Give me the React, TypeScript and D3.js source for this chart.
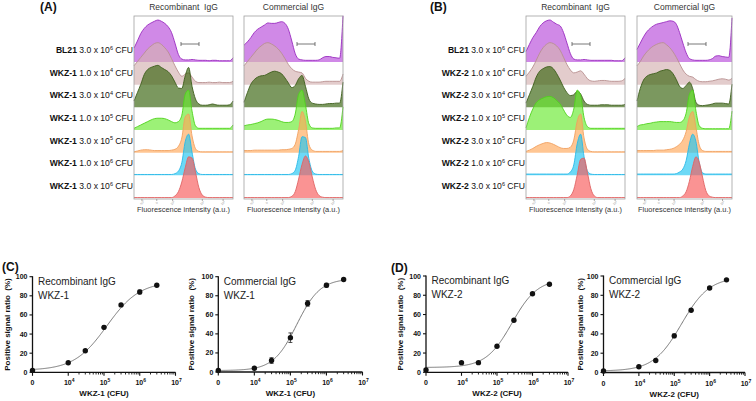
import React from 'react';
import * as d3 from 'd3';

const FONT = "'Liberation Sans', Arial, Helvetica, sans-serif";

// ---------- Flow cytometry histograms (normalized heights, 30 bins across the intensity axis) ----------
const rowMantissa = ['3.0', '1.0', '3.0', '1.0', '3.0', '1.0', '3.0'];
const rowExponent = ['6', '4', '4', '5', '5', '6', '6'];
const strainsA = ['BL21', 'WKZ-1', 'WKZ-1', 'WKZ-1', 'WKZ-1', 'WKZ-1', 'WKZ-1'];
const strainsB = ['BL21', 'WKZ-2', 'WKZ-2', 'WKZ-2', 'WKZ-2', 'WKZ-2', 'WKZ-2'];
const histTitles = ['Recombinant  IgG', 'Commercial IgG'];
const histTickLabels = ['-10³', '0', '10³', '10⁴', '10⁵'];
const histTickPos = [0.08, 0.23, 0.39, 0.69, 0.9];

const rowFill = ['#b74cdb', '#d4b1b1', '#37620c', '#69ea30', '#ffa95b', '#22c6f1', '#f85b5b'];
const rowStroke = ['#9a2cc0', '#b89090', '#3d5e1c', '#4fd31c', '#f0a060', '#28b8e8', '#e06464'];

const histARecombinant = [
  [0.33, 0.5, 0.68, 0.8, 0.88, 0.93, 0.97, 1.0, 0.97, 0.92, 0.84, 0.7, 0.45, 0.18, 0.07, 0.05, 0.05, 0.06, 0.05, 0.04, 0.04, 0.04, 0.03, 0.04, 0.04, 0.03, 0.03, 0.03, 0.03, 0.1],
  [0.45, 0.55, 0.65, 0.75, 0.85, 0.92, 0.98, 1.0, 0.96, 0.88, 0.78, 0.62, 0.45, 0.3, 0.2, 0.25, 0.28, 0.18, 0.08, 0.05, 0.05, 0.05, 0.06, 0.05, 0.05, 0.06, 0.05, 0.05, 0.05, 0.08],
  [0.15, 0.35, 0.55, 0.78, 0.9, 0.95, 0.98, 1.0, 0.95, 0.9, 0.85, 0.75, 0.6, 0.46, 0.45, 0.75, 0.95, 0.5, 0.2, 0.08, 0.05, 0.05, 0.06, 0.08, 0.06, 0.05, 0.05, 0.05, 0.06, 0.15],
  [0.04, 0.08, 0.12, 0.16, 0.2, 0.24, 0.27, 0.28, 0.28, 0.27, 0.24, 0.2, 0.17, 0.2, 0.35, 0.85, 0.95, 0.45, 0.1, 0.04, 0.04, 0.04, 0.04, 0.04, 0.04, 0.04, 0.04, 0.04, 0.04, 0.12],
  [0.02, 0.04, 0.06, 0.07, 0.07, 0.06, 0.05, 0.05, 0.05, 0.05, 0.05, 0.06, 0.08, 0.15, 0.35, 0.85, 0.92, 0.4, 0.1, 0.03, 0.02, 0.02, 0.02, 0.02, 0.02, 0.02, 0.02, 0.02, 0.02, 0.02],
  [0.02, 0.02, 0.02, 0.02, 0.02, 0.02, 0.02, 0.02, 0.02, 0.02, 0.02, 0.02, 0.04, 0.1, 0.3, 0.8, 0.98, 0.55, 0.15, 0.04, 0.02, 0.02, 0.02, 0.02, 0.02, 0.02, 0.02, 0.02, 0.02, 0.02],
  [0.01, 0.01, 0.01, 0.01, 0.01, 0.01, 0.01, 0.01, 0.01, 0.01, 0.01, 0.01, 0.05, 0.15, 0.38, 0.72, 0.98, 0.95, 0.62, 0.25, 0.07, 0.02, 0.01, 0.01, 0.01, 0.01, 0.01, 0.01, 0.01, 0.01],
];
const histACommercial = [
  [0.4, 0.48, 0.58, 0.7, 0.78, 0.83, 0.88, 0.93, 0.92, 0.92, 0.94, 0.96, 0.92, 0.78, 0.5, 0.2, 0.07, 0.05, 0.04, 0.04, 0.04, 0.04, 0.05, 0.1, 0.13, 0.13, 0.11, 0.1, 0.09, 1.1],
  [0.45, 0.55, 0.65, 0.75, 0.85, 0.92, 0.98, 1.0, 0.97, 0.92, 0.85, 0.75, 0.62, 0.48, 0.38, 0.32, 0.3, 0.28, 0.15, 0.08, 0.06, 0.06, 0.06, 0.07, 0.08, 0.08, 0.08, 0.08, 0.08, 0.25],
  [0.12, 0.35, 0.55, 0.66, 0.72, 0.75, 0.76, 0.8, 0.84, 0.86, 0.84, 0.8, 0.7, 0.58, 0.47, 0.52, 0.68, 0.76, 0.5, 0.2, 0.1, 0.08, 0.07, 0.07, 0.08, 0.09, 0.09, 0.1, 0.1, 0.6],
  [0.1, 0.12, 0.13, 0.15, 0.17, 0.2, 0.24, 0.26, 0.26, 0.25, 0.23, 0.2, 0.18, 0.18, 0.2, 0.38, 0.85, 0.95, 0.6, 0.15, 0.05, 0.04, 0.04, 0.04, 0.04, 0.04, 0.04, 0.05, 0.05, 0.55],
  [0.05, 0.05, 0.05, 0.06, 0.06, 0.06, 0.06, 0.06, 0.06, 0.06, 0.06, 0.07, 0.07, 0.08, 0.1, 0.2, 0.55, 0.98, 0.75, 0.2, 0.06, 0.03, 0.03, 0.03, 0.03, 0.03, 0.03, 0.03, 0.03, 0.05],
  [0.02, 0.02, 0.02, 0.02, 0.02, 0.02, 0.02, 0.02, 0.02, 0.02, 0.02, 0.02, 0.02, 0.02, 0.04, 0.12, 0.45, 0.92, 0.9, 0.4, 0.1, 0.03, 0.02, 0.02, 0.02, 0.02, 0.02, 0.02, 0.02, 0.02],
  [0.01, 0.01, 0.01, 0.01, 0.01, 0.01, 0.01, 0.01, 0.01, 0.01, 0.01, 0.01, 0.01, 0.01, 0.04, 0.15, 0.45, 0.8, 1.0, 0.85, 0.5, 0.2, 0.06, 0.02, 0.01, 0.01, 0.01, 0.01, 0.01, 0.01],
];
const histBRecombinant = [
  [0.25, 0.42, 0.58, 0.7, 0.84, 0.93, 0.98, 1.0, 0.95, 0.9, 0.86, 0.7, 0.45, 0.2, 0.07, 0.05, 0.05, 0.06, 0.05, 0.04, 0.04, 0.04, 0.04, 0.04, 0.04, 0.04, 0.03, 0.03, 0.03, 0.1],
  [0.2, 0.3, 0.42, 0.58, 0.75, 0.88, 0.96, 1.0, 0.98, 0.92, 0.82, 0.65, 0.48, 0.35, 0.28, 0.3, 0.33, 0.25, 0.14, 0.09, 0.08, 0.09, 0.1, 0.1, 0.09, 0.08, 0.08, 0.08, 0.09, 0.15],
  [0.1, 0.3, 0.5, 0.72, 0.86, 0.92, 0.96, 0.97, 0.92, 0.8, 0.65, 0.48, 0.35, 0.28, 0.3, 0.38, 0.32, 0.15, 0.07, 0.05, 0.05, 0.05, 0.06, 0.06, 0.06, 0.05, 0.05, 0.05, 0.05, 0.07],
  [0.05, 0.3, 0.5, 0.65, 0.72, 0.76, 0.79, 0.8, 0.77, 0.7, 0.62, 0.48, 0.35, 0.3, 0.5, 0.95, 0.82, 0.3, 0.08, 0.04, 0.04, 0.04, 0.04, 0.04, 0.04, 0.04, 0.04, 0.04, 0.04, 0.04],
  [0.03, 0.06, 0.1, 0.15, 0.19, 0.22, 0.24, 0.23, 0.2, 0.16, 0.12, 0.1, 0.1, 0.13, 0.3, 0.75, 0.92, 0.35, 0.08, 0.03, 0.02, 0.02, 0.02, 0.02, 0.02, 0.02, 0.02, 0.02, 0.02, 0.02],
  [0.03, 0.03, 0.03, 0.03, 0.03, 0.03, 0.03, 0.03, 0.03, 0.03, 0.03, 0.03, 0.03, 0.08, 0.25, 0.75, 0.98, 0.45, 0.1, 0.03, 0.02, 0.02, 0.02, 0.02, 0.02, 0.02, 0.02, 0.02, 0.02, 0.02],
  [0.01, 0.01, 0.01, 0.01, 0.01, 0.01, 0.01, 0.01, 0.01, 0.01, 0.01, 0.01, 0.01, 0.05, 0.2, 0.55, 0.92, 0.95, 0.6, 0.22, 0.05, 0.01, 0.01, 0.01, 0.01, 0.01, 0.01, 0.01, 0.01, 0.01],
];
const histBCommercial = [
  [0.3, 0.45, 0.6, 0.72, 0.8, 0.86, 0.9, 0.92, 0.94, 0.96, 0.98, 0.97, 0.9, 0.7, 0.45, 0.22, 0.08, 0.05, 0.04, 0.04, 0.04, 0.04, 0.05, 0.08, 0.14, 0.15, 0.13, 0.12, 0.11, 1.05],
  [0.45, 0.55, 0.68, 0.78, 0.86, 0.92, 0.96, 0.99, 1.0, 0.95, 0.88, 0.78, 0.65, 0.5, 0.35, 0.25, 0.2, 0.18, 0.12, 0.08, 0.07, 0.07, 0.08, 0.09, 0.11, 0.13, 0.14, 0.13, 0.11, 0.15],
  [0.15, 0.45, 0.65, 0.74, 0.78, 0.8, 0.82, 0.86, 0.88, 0.9, 0.88, 0.8, 0.66, 0.5, 0.45, 0.52, 0.6, 0.45, 0.12, 0.05, 0.04, 0.05, 0.06, 0.08, 0.1, 0.1, 0.1, 0.09, 0.08, 0.55],
  [0.08, 0.12, 0.13, 0.15, 0.16, 0.18, 0.19, 0.2, 0.2, 0.2, 0.2, 0.19, 0.18, 0.18, 0.22, 0.4, 0.85, 0.95, 0.45, 0.1, 0.04, 0.03, 0.03, 0.03, 0.03, 0.03, 0.03, 0.03, 0.03, 0.45],
  [0.05, 0.05, 0.05, 0.05, 0.05, 0.05, 0.06, 0.06, 0.06, 0.07, 0.08, 0.1, 0.14, 0.2, 0.3, 0.5, 0.85, 0.98, 0.6, 0.18, 0.05, 0.03, 0.03, 0.03, 0.03, 0.03, 0.03, 0.03, 0.03, 0.03],
  [0.03, 0.03, 0.03, 0.03, 0.03, 0.03, 0.03, 0.03, 0.03, 0.03, 0.03, 0.03, 0.04, 0.08, 0.15, 0.35, 0.75, 0.98, 0.8, 0.3, 0.06, 0.03, 0.03, 0.03, 0.03, 0.03, 0.03, 0.03, 0.03, 0.03],
  [0.01, 0.01, 0.01, 0.01, 0.01, 0.01, 0.01, 0.01, 0.01, 0.01, 0.01, 0.01, 0.01, 0.01, 0.05, 0.15, 0.4, 0.75, 0.98, 0.85, 0.5, 0.18, 0.05, 0.02, 0.01, 0.01, 0.01, 0.01, 0.01, 0.01],
];

// ---------- Dose-response data ----------
const doseCFU = [0, 1e4, 3e4, 1e5, 3e5, 1e6, 3e6];
const c1Ratio = [2, 10, 22.5, 47, 70.5, 84, 91];
const c1Err = [0.5, 0.8, 1, 1.5, 1, 2, 1];
const c2Ratio = [1.5, 4, 12, 36, 72, 91, 97];
const c2Err = [0.5, 0.8, 3, 5, 3, 2, 0.8];
const d1Ratio = [2.5, 10, 10, 27, 54, 81.5, 91.5];
const d1Err = [0.5, 0.8, 1, 1, 1.2, 1, 0.8];
const d2Ratio = [1.5, 6, 12.5, 38, 64.5, 87.5, 96];
const d2Err = [0.5, 0.8, 1, 2, 1, 1, 0.8];
// 4-parameter logistic fits: bottom, top, EC50, hill
const c1Fit = [2, 95, 1.2e5, 0.95];
const c2Fit = [1.5, 98, 1.5e5, 1.34];
const d1Fit = [5, 97, 2.63e5, 1.2];
const d2Fit = [1.5, 99, 1.6e5, 1.1];
const yTicks = [0, 20, 40, 60, 80, 100];
const xMajor = [0, 1e4, 1e5, 1e6, 1e7];
const xMajorExp = ['', '4', '5', '6', '7'];

function HistPanel({ x0, x1, data, title, gate }: any) {
  const n = data[0].length;
  const xs = d3.scaleLinear().domain([0, n - 1]).range([x0, x1]);
  const rowY = d3.scaleLinear().domain([0, 6]).range([62, 198]);
  const hS = d3.scaleLinear().domain([0, 1]).range([0, 42]);
  const cx = (x0 + x1) / 2;
  return (
    <g>
      <text x={cx} y={10} textAnchor="middle" fontSize={8.5} fill="#333" style={{ whiteSpace: 'pre' }}>{title}</text>
      {data.map((arr: number[], r: number) => {
        const base = rowY(r);
        const area = d3.area<number>().x((_, i) => xs(i)).y0(base).y1((d) => base - hS(d)).curve(d3.curveMonotoneX);
        const line = d3.line<number>().x((_, i) => xs(i)).y((d) => base - hS(d)).curve(d3.curveMonotoneX);
        return (
          <g key={r}>
            <path d={area(arr) || ''} fill={rowFill[r]} fillOpacity={0.66} />
            <path d={line(arr) || ''} fill="none" stroke={rowStroke[r]} strokeWidth={0.9} />
          </g>
        );
      })}
      <rect x={x0} y={16} width={x1 - x0} height={183} fill="none" stroke="#a0a0a0" strokeWidth={0.8} />
      <g stroke="#555" strokeWidth={0.8}>
        <line x1={gate[0]} x2={gate[1]} y1={44} y2={44} />
        <line x1={gate[0]} x2={gate[0]} y1={42} y2={46} />
        <line x1={gate[1]} x2={gate[1]} y1={42} y2={46} />
      </g>
      {histTickPos.map((p, i) => {
        const x = x0 + p * (x1 - x0);
        return (
          <g key={i}>
            <line x1={x} x2={x} y1={199} y2={201} stroke="#777" strokeWidth={0.6} />
            <text x={x} y={204} fontSize={3.2} fill="#999" textAnchor="middle" transform={`rotate(-50 ${x} 203)`}>{histTickLabels[i]}</text>
          </g>
        );
      })}
      <text x={cx} y={212} textAnchor="middle" fontSize={7.4} fill="#333">Fluorescence intensity (a.u.)</text>
    </g>
  );
}

function RowLabels({ xEnd, strains }: any) {
  const rowY = d3.scaleLinear().domain([0, 6]).range([62, 198]);
  return (
    <g>
      {strains.map((s: string, r: number) => (
        <text key={r} x={xEnd} y={rowY(r) - 9} textAnchor="end" fontSize={8.6} fill="#111">
          <tspan fontWeight="bold">{s}</tspan>
          <tspan>{` ${rowMantissa[r]} x 10`}</tspan>
          <tspan fontSize={5.5} dy={-3.5}>{rowExponent[r]}</tspan>
          <tspan dy={3.5}>{' CFU'}</tspan>
        </text>
      ))}
    </g>
  );
}

function DosePlot({ x0, x1, yTop, yBot, ratio, err, fit, title, strain, yLabelX }: any) {
  const xs = d3.scaleLog().domain([1e3, 1e7]).range([x0, x1]);
  const yS = d3.scaleLinear().domain([0, 100]).range([yBot, yTop]);
  const px = (v: number) => (v === 0 ? xs(1e3) : xs(v));
  const [bot, top, ec50, hill] = fit;
  const model = (x: number) => bot + (top - bot) / (1 + Math.pow(ec50 / x, hill));
  const curveX = d3.range(3, Math.log10(3e6) + 0.0001, 0.02).map((e) => Math.pow(10, e));
  const line = d3.line<number>().x((x) => xs(x)).y((x) => yS(model(x))).curve(d3.curveLinear);
  const minors: number[] = [];
  for (let k = 4; k <= 6; k++) for (let m = 2; m <= 9; m++) minors.push(m * Math.pow(10, k));
  return (
    <g>
      <path d={line(curveX) || ''} fill="none" stroke="#777" strokeWidth={1} />
      <line x1={x0} x2={x0} y1={yTop - 0.5} y2={yBot} stroke="#111" strokeWidth={1.3} />
      <line x1={x0} x2={x1} y1={yBot} y2={yBot} stroke="#111" strokeWidth={1.3} />
      {yTicks.map((t) => (
        <g key={t}>
          <line x1={x0 - 3} x2={x0} y1={yS(t)} y2={yS(t)} stroke="#111" strokeWidth={1.1} />
          <text x={x0 - 5} y={yS(t) + 2.5} textAnchor="end" fontSize={7} fontWeight="bold" fill="#111">{t}</text>
        </g>
      ))}
      {xMajor.map((v, i) => (
        <g key={v}>
          <line x1={px(v)} x2={px(v)} y1={yBot} y2={yBot + 3.5} stroke="#111" strokeWidth={1.1} />
          {v === 0 ? (
            <text x={px(v)} y={yBot + 13} textAnchor="middle" fontSize={7} fontWeight="bold" fill="#111">0</text>
          ) : (
            <text x={px(v) + 1} y={yBot + 13} textAnchor="middle" fontSize={7} fontWeight="bold" fill="#111">
              10<tspan fontSize={5} dy={-3}>{xMajorExp[i]}</tspan>
            </text>
          )}
        </g>
      ))}
      {minors.map((v) => (
        <line key={v} x1={xs(v)} x2={xs(v)} y1={yBot} y2={yBot + 2.2} stroke="#111" strokeWidth={0.9} />
      ))}
      {doseCFU.map((v, i) => (
        <g key={i}>
          {err[i] > 1.2 && (
            <g stroke="#222" strokeWidth={0.8}>
              <line x1={px(v)} x2={px(v)} y1={yS(ratio[i] - err[i])} y2={yS(ratio[i] + err[i])} />
              <line x1={px(v) - 2} x2={px(v) + 2} y1={yS(ratio[i] - err[i])} y2={yS(ratio[i] - err[i])} />
              <line x1={px(v) - 2} x2={px(v) + 2} y1={yS(ratio[i] + err[i])} y2={yS(ratio[i] + err[i])} />
            </g>
          )}
          <circle cx={px(v)} cy={yS(ratio[i])} r={2.7} fill="#111" />
        </g>
      ))}
      <text x={x0 + 5.5} y={yTop + 8} fontSize={10} fill="#222">{title}</text>
      <text x={x0 + 5.5} y={yTop + 22} fontSize={10} fill="#222">{strain}</text>
      <text x={(x0 + x1) / 2} y={yBot + 24} textAnchor="middle" fontSize={8} fontWeight="bold" fill="#111">{`${strain} (CFU)`}</text>
      <text
        x={yLabelX}
        y={(yTop + yBot) / 2}
        textAnchor="middle"
        fontSize={8}
        fontWeight="bold"
        fill="#111"
        dominantBaseline="central"
        transform={`rotate(-90 ${yLabelX} ${(yTop + yBot) / 2})`}
        style={{ whiteSpace: 'pre' }}
      >
        {'Positive signal ratio  (%)'}
      </text>
    </g>
  );
}

export default function App() {
  return (
    <svg width={756} height={401} viewBox="0 0 756 401" style={{ position: 'absolute', left: 0, top: 0, fontFamily: FONT }}>
      <rect x={0} y={0} width={756} height={401} fill="#fff" />
      <text x={40} y={11} fontSize={12} fontWeight="bold" fill="#111">(A)</text>
      <text x={430} y={11} fontSize={12} fontWeight="bold" fill="#111">(B)</text>
      <RowLabels xEnd={133} strains={strainsA} />
      <RowLabels xEnd={525} strains={strainsB} />
      <HistPanel x0={134} x1={233} data={histARecombinant} title={histTitles[0]} gate={[181, 199]} />
      <HistPanel x0={244} x1={343} data={histACommercial} title={histTitles[1]} gate={[297, 315]} />
      <HistPanel x0={526} x1={625} data={histBRecombinant} title={histTitles[0]} gate={[572, 590]} />
      <HistPanel x0={637} x1={732} data={histBCommercial} title={histTitles[1]} gate={[688, 706]} />

      <text x={2} y={271} fontSize={12} fontWeight="bold" fill="#111">(C)</text>
      <text x={391} y={272} fontSize={12} fontWeight="bold" fill="#111">(D)</text>
      <DosePlot x0={32.5} x1={175.5} yTop={276.7} yBot={372.3} ratio={c1Ratio} err={c1Err} fit={c1Fit} title="Recombinant IgG" strain="WKZ-1" yLabelX={7} />
      <DosePlot x0={218.3} x1={362.5} yTop={276.7} yBot={372} ratio={c2Ratio} err={c2Err} fit={c2Fit} title="Commercial IgG" strain="WKZ-1" yLabelX={192} />
      <DosePlot x0={426} x1={568} yTop={276} yBot={372.3} ratio={d1Ratio} err={d1Err} fit={d1Fit} title="Recombinant IgG" strain="WKZ-2" yLabelX={401} />
      <DosePlot x0={603.5} x1={745} yTop={276} yBot={372.5} ratio={d2Ratio} err={d2Err} fit={d2Fit} title="Commercial IgG" strain="WKZ-2" yLabelX={580} />
    </svg>
  );
}
